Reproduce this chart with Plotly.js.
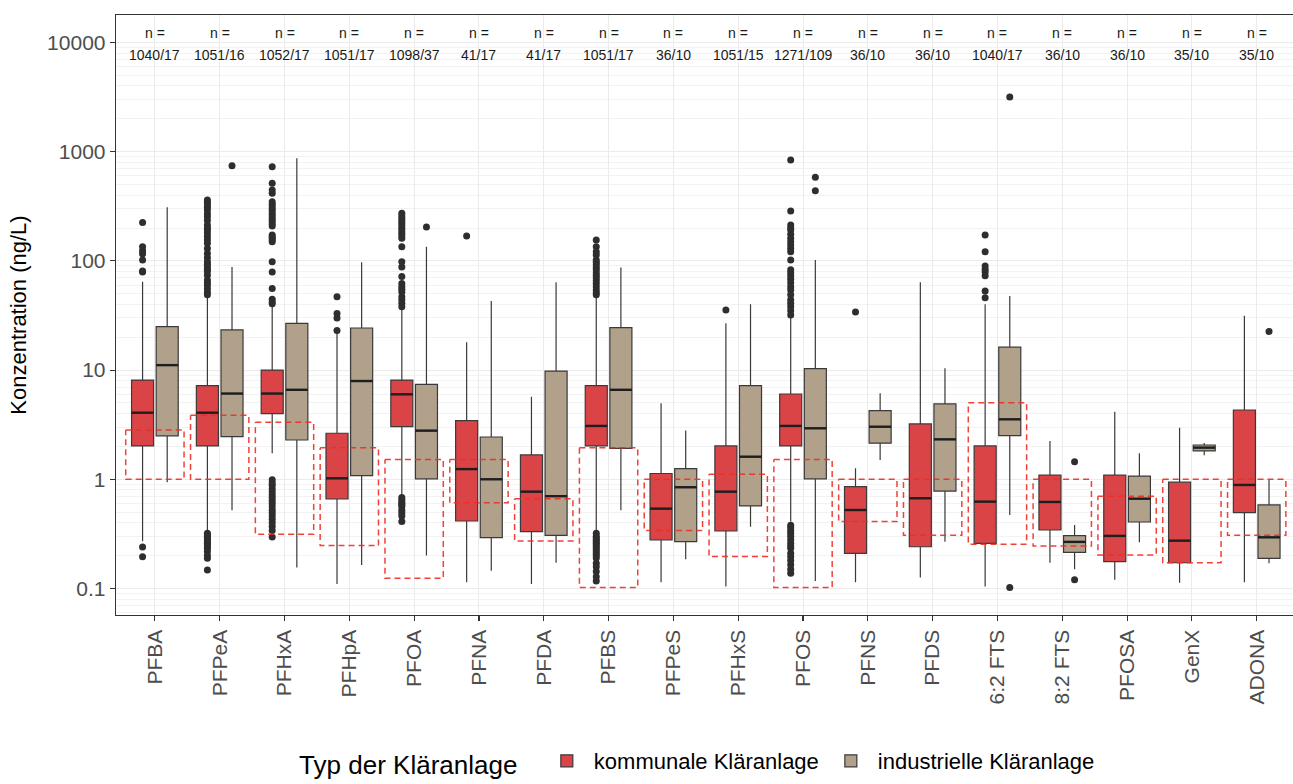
<!DOCTYPE html>
<html>
<head>
<meta charset="utf-8">
<script src="https://cdn.plot.ly/plotly-3.0.1.min.js"></script>
<style>html,body{margin:0;padding:0;background:#fff;}#chart{width:1293px;height:784px;}</style>
</head>
<body>
<div id="chart"></div>
<script>
const categories = ['PFBA','PFPeA','PFHxA','PFHpA','PFOA','PFNA','PFDA','PFBS','PFPeS','PFHxS','PFOS','PFNS','PFDS','6:2 FTS','8:2 FTS','PFOSA','GenX','ADONA'];
const nLabels = ['1040/17','1051/16','1052/17','1051/17','1098/37','41/17','41/17','1051/17','36/10','1051/15','1271/109','36/10','36/10','1040/17','36/10','36/10','35/10','35/10'];

// kommunale Kläranlage
const komLower  = [0.27, 0.33, 1.73, 0.11, 0.69, 0.114, 0.11, 0.33, 0.114, 0.104, 0.41, 0.114, 0.126, 0.104, 0.172, 0.12, 0.113, 0.114];
const komQ1     = [2.02, 2.02, 4.0, 0.66, 3.03, 0.415, 0.331, 2.02, 0.278, 0.336, 2.02, 0.21, 0.241, 0.259, 0.343, 0.176, 0.172, 0.494];
const komMedian = [4.07, 4.07, 6.1, 1.02, 6.0, 1.24, 0.77, 3.08, 0.538, 0.77, 3.08, 0.523, 0.67, 0.624, 0.62, 0.303, 0.274, 0.887];
const komQ3     = [8.1, 7.2, 10.0, 2.64, 8.1, 3.44, 1.67, 7.2, 1.13, 2.02, 6.04, 0.855, 3.21, 2.02, 1.09, 1.09, 0.94, 4.31];
const komUpper  = [64.5, 48, 40, 21.7, 36, 18, 5.7, 48, 4.97, 26.8, 31, 1.26, 63.7, 40, 2.24, 4.16, 2.97, 31.5];

// industrielle Kläranlage
const indLower  = [0.94, 0.52, 0.156, 0.164, 0.2, 0.145, 0.172, 0.52, 0.185, 0.368, 0.117, 1.5, 0.268, 0.471, 0.15, 0.265, 1.66, 0.17];
const indQ1     = [2.5, 2.46, 2.29, 1.08, 1.01, 0.292, 0.307, 1.92, 0.268, 0.57, 1.01, 2.14, 0.78, 2.51, 0.214, 0.406, 1.82, 0.189];
const indMedian = [11.1, 6.1, 6.6, 7.94, 2.79, 1.0, 0.70, 6.6, 0.845, 1.61, 2.93, 3.03, 2.32, 3.54, 0.267, 0.664, 1.95, 0.294];
const indQ3     = [25, 23.3, 26.8, 24.3, 7.4, 2.44, 9.8, 24.5, 1.25, 7.2, 10.3, 4.25, 4.9, 16.2, 0.305, 1.07, 2.06, 0.582];
const indUpper  = [310, 88, 869, 97, 135, 43, 63.7, 87, 2.79, 40, 102, 6.13, 10.4, 47.7, 0.382, 1.73, 2.15, 1.0];

// outliers
const komOutliers = [
  [225,135,124,116,102,81,79,0.24,0.195],
  [361,345,325,310,292,270,254,235,213,200,192,180,167,156,145,130,117,107,98,93,88,84,80,74,67,63,60,56,52,49,
   0.32,0.31,0.30,0.29,0.28,0.27,0.26,0.25,0.24,0.233,0.218,0.2,0.189,0.148],
  [729,513,446,416,348,330,313,297,282,267,254,241,229,218,209,173,167,161,155,150,98,79,56,44.5,42,40.5,
   0.99,0.93,0.88,0.82,0.77,0.72,0.68,0.64,0.6,0.56,0.52,0.49,0.46,0.43,0.4,0.37,0.34,0.296],
  [47,33,30,23],
  [273,258,245,232,221,210,199,189,179,170,161,135,98,88,72,62,58,55,52,47,44,41,38,
   0.68,0.65,0.62,0.6,0.58,0.56,0.52,0.49,0.46,0.41],
  [169],
  [],
  [155,135,121,113,102,97,92,87,83,78,74,70,66,62,58,54,51,49,
   0.32,0.30,0.29,0.28,0.27,0.26,0.25,0.24,0.23,0.22,0.21,0.2,0.19,0.17,0.158,0.143,0.128,0.117],
  [],
  [35.5],
  [840,286,213,200,192,175,161,150,140,130,121,102,83,78,73,68,63,58,54,49,44,41,38,35,32,
   0.38,0.36,0.34,0.32,0.3,0.28,0.26,0.245,0.233,0.21,0.195,0.18,0.165,0.15,0.138],
  [34],
  [],
  [173,121,90,84,79,73,53,46],
  [],
  [],
  [],
  []
];
const indOutliers = [
  [],[745],[],[],[204],[],[],[],[],[],[583,440],[],[],[3170,0.102],[1.45,0.12],[],[],[22.6]
];

// reference ranges (dashed red rectangles)
const rangeTop    = [2.83, 3.86, 3.33, 1.94, 1.52, 1.52, 0.664, 1.94, 1.0, 1.11, 1.52, 1.0, 1.0, 5.03, 1.0, 0.70, 1.0, 1.0];
const rangeBottom = [1.0, 1.0, 0.313, 0.247, 0.124, 0.61, 0.272, 0.102, 0.339, 0.196, 0.102, 0.41, 0.307, 0.254, 0.245, 0.203, 0.172, 0.307];

const FONT = 'Liberation Sans, Arial, sans-serif';
const RED = '#DA4446', TAN = '#B1A18B';
const OFF = 0.19, BW = 0.34, RW = 0.45;
const idx = categories.map((c, i) => i);
const komPos = idx.map(i => i - OFF);
const indPos = idx.map(i => i + OFF);

function boxTrace(name, pos, lf, q1, med, q3, uf, color) {
  return {
    type: 'box', name: name, x: pos, q1: q1, median: med, q3: q3,
    lowerfence: lf, upperfence: uf, width: BW, whiskerwidth: 0,
    boxpoints: false, fillcolor: color,
    line: {color: '#3a3a3a', width: 1.2},
    hoverinfo: 'skip', showlegend: true
  };
}
function medianTrace(pos, med) {
  const x = [], y = [];
  pos.forEach((p, i) => { x.push(p - BW / 2, p + BW / 2, null); y.push(med[i], med[i], null); });
  return {type: 'scatter', mode: 'lines', x: x, y: y, line: {color: '#1e1e1e', width: 2.4},
          showlegend: false, hoverinfo: 'skip'};
}
function outlierTrace(pos, outs) {
  const x = [], y = [];
  outs.forEach((arr, i) => arr.forEach(v => { x.push(pos[i]); y.push(v); }));
  return {type: 'scatter', mode: 'markers', x: x, y: y,
          marker: {color: '#2e2e2e', size: 7}, showlegend: false, hoverinfo: 'skip'};
}
const rx = [], ry = [];
idx.forEach(i => {
  rx.push(i - RW, i + RW, i + RW, i - RW, i - RW, null);
  ry.push(rangeTop[i], rangeTop[i], rangeBottom[i], rangeBottom[i], rangeTop[i], null);
});
const rectTrace = {type: 'scatter', mode: 'lines', x: rx, y: ry,
  line: {color: 'rgba(238,45,35,0.9)', width: 1.5, dash: '6px,4px'},
  showlegend: false, hoverinfo: 'skip'};

const traces = [
  boxTrace('kommunale Kläranlage', komPos, komLower, komQ1, komMedian, komQ3, komUpper, RED),
  boxTrace('industrielle Kläranlage', indPos, indLower, indQ1, indMedian, indQ3, indUpper, TAN),
  medianTrace(komPos, komMedian),
  medianTrace(indPos, indMedian),
  outlierTrace(komPos, komOutliers),
  outlierTrace(indPos, indOutliers),
  rectTrace
];

const minorVals = [];
for (let e = -2; e <= 4; e++) for (let m = 2; m <= 9; m++) minorVals.push(m * Math.pow(10, e));

const annotations = [];
idx.forEach(i => {
  annotations.push({x: i, xref: 'x', y: 0.970, yref: 'paper', text: 'n =', showarrow: false,
    font: {family: FONT, size: 14, color: '#1a1a1a'}, yanchor: 'middle'});
  annotations.push({x: i, xref: 'x', y: 0.933, yref: 'paper', text: nLabels[i], showarrow: false,
    font: {family: FONT, size: 14, color: '#1a1a1a'}, yanchor: 'middle'});
});

const layout = {
  width: 1293, height: 784,
  margin: {l: 116, r: 0, t: 15, b: 169},
  paper_bgcolor: '#fff', plot_bgcolor: '#fff',
  font: {family: FONT},
  boxmode: 'overlay',
  xaxis: {
    type: 'linear', range: [-0.6, 17.56],
    tickmode: 'array', tickvals: idx, ticktext: categories, tickangle: -90,
    ticks: 'outside', ticklen: 5, tickcolor: '#333', tickwidth: 1.1,
    tickfont: {family: FONT, size: 21, color: '#4D4D4D'},
    showline: true, mirror: true, linecolor: '#333', linewidth: 1.3,
    showgrid: true, gridcolor: '#EBEBEB', gridwidth: 1, zeroline: false
  },
  yaxis: {
    type: 'log', range: [-1.243, 4.252],
    tickmode: 'array', tickvals: [0.1, 1, 10, 100, 1000, 10000],
    ticktext: ['0.1', '1', '10', '100', '1000', '10000'],
    ticks: 'outside', ticklen: 5, tickcolor: '#333', tickwidth: 1.1,
    tickfont: {family: FONT, size: 21, color: '#4D4D4D'},
    showline: true, mirror: false, linecolor: '#333', linewidth: 1.3,
    showgrid: true, gridcolor: '#EBEBEB', gridwidth: 1, zeroline: false,
    minor: {tickmode: 'array', tickvals: minorVals, showgrid: true, gridcolor: '#F2F2F2', gridwidth: 1, ticks: ''},
    title: {text: 'Konzentration (ng/L)', font: {family: FONT, size: 22, color: '#000'}, standoff: 14}
  },
  legend: {
    orientation: 'h', xref: 'paper', x: 0.495, xanchor: 'center',
    yref: 'container', y: 0.0, yanchor: 'bottom',
    title: {text: 'Typ der Kläranlage  ', side: 'left', font: {family: FONT, size: 26, color: '#000'}},
    font: {family: FONT, size: 22, color: '#000'}, bgcolor: 'rgba(0,0,0,0)',
    itemwidth: 44
  },
  annotations: annotations,
  showlegend: true
};

Plotly.newPlot('chart', traces, layout, {displayModeBar: false, staticPlot: true});
</script>
</body>
</html>
